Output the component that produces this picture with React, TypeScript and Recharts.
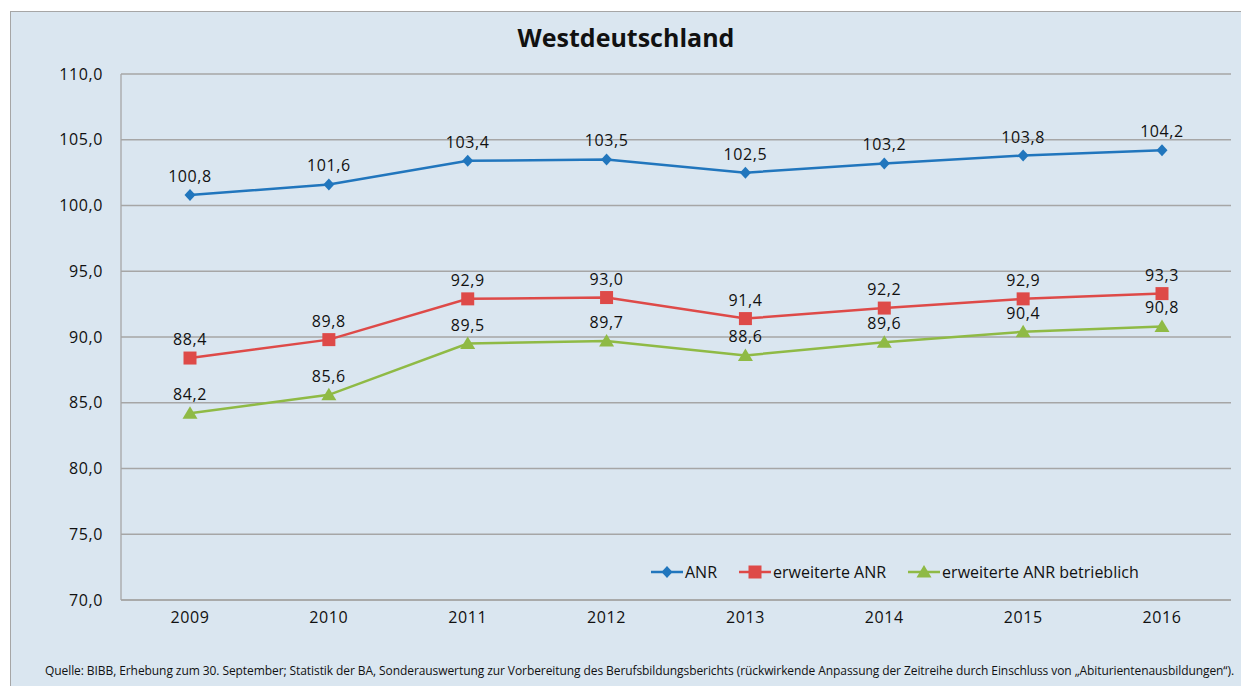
import React from "react";
import {
  LineChart, Line, XAxis, YAxis, CartesianGrid, LabelList,
} from "recharts";

const years = ["2009", "2010", "2011", "2012", "2013", "2014", "2015", "2016"];
const anr = [100.8, 101.6, 103.4, 103.5, 102.5, 103.2, 103.8, 104.2];
const anrErweitert = [88.4, 89.8, 92.9, 93.0, 91.4, 92.2, 92.9, 93.3];
const anrBetrieblich = [84.2, 85.6, 89.5, 89.7, 88.6, 89.6, 90.4, 90.8];
const yTicks = [70, 75, 80, 85, 90, 95, 100, 105, 110];

const BLUE = "#2176bd";
const RED = "#de4a48";
const GREEN = "#8fba45";
const GRID = "#a6a6a6";
const BG = "#dae6f0";
const FONT = "'Open Sans', sans-serif";

const data = years.map((y, i) => ({
  year: y,
  anr: anr[i],
  erw: anrErweitert[i],
  betr: anrBetrieblich[i],
}));

const fmt = (v: number) => v.toFixed(1).replace(".", ",");

function Diamond({ cx, cy, color }: { cx: number; cy: number; color: string }) {
  return <path d={`M${cx},${cy - 6} L${cx + 5.5},${cy} L${cx},${cy + 6} L${cx - 5.5},${cy} Z`} fill={color} />;
}
function Square({ cx, cy, color }: { cx: number; cy: number; color: string }) {
  return <rect x={cx - 6.5} y={cy - 6.5} width={13} height={13} fill={color} />;
}
function Triangle({ cx, cy, color }: { cx: number; cy: number; color: string }) {
  return <path d={`M${cx},${cy - 7} L${cx + 7.5},${cy + 5.5} L${cx - 7.5},${cy + 5.5} Z`} fill={color} />;
}

const legendItems = [
  { label: "ANR", color: BLUE, Marker: Diamond },
  { label: "erweiterte ANR", color: RED, Marker: Square },
  { label: "erweiterte ANR betrieblich", color: GREEN, Marker: Triangle },
];

function ChartLegend() {
  return (
    <div
      style={{
        position: "absolute", left: 651, top: 561, display: "flex", alignItems: "center",
        fontFamily: FONT, fontSize: 16, color: "#111", whiteSpace: "nowrap",
      }}
    >
      {legendItems.map(({ label, color, Marker }, idx) => (
        <div key={idx} style={{ display: "flex", alignItems: "center", marginRight: idx < 2 ? 22 : 0 }}>
          <svg width={32} height={16} style={{ marginRight: 2 }}>
            <line x1={0} y1={8} x2={32} y2={8} stroke={color} strokeWidth={2.5} />
            <Marker cx={16} cy={8} color={color} />
          </svg>
          <span>{label}</span>
        </div>
      ))}
    </div>
  );
}

const labelStyle = { fontSize: 16, fill: "#111", fontFamily: FONT, letterSpacing: 0.6 };
const tickStyle = { fontSize: 16, fill: "#111", fontFamily: FONT, letterSpacing: 0.6 };

export default function App() {
  return (
    <div style={{ position: "absolute", left: 0, top: 0, width: 1241, height: 686, overflow: "hidden", background: "#fff" }}>
      <div
        style={{
          position: "absolute", left: 10, top: 11, width: 1240, height: 700,
          background: BG, border: `1px solid ${GRID}`,
        }}
      />
      <div
        style={{
          position: "absolute", left: 10, top: 20, width: 1232, textAlign: "center",
          fontFamily: FONT, fontWeight: 700, fontSize: 25, color: "#111",
        }}
      >
        Westdeutschland
      </div>
      <div style={{ position: "absolute", left: 0, top: 0 }}>
        <LineChart width={1241} height={686} data={data} margin={{ top: 74, right: 10, bottom: 56, left: 0 }}>
          <CartesianGrid vertical={false} stroke={GRID} strokeWidth={1.3} />
          <XAxis
            dataKey="year"
            height={30}
            padding={{ left: 69, right: 69 }}
            axisLine={{ stroke: GRID, strokeWidth: 1.3 }}
            tickLine={false}
            tickSize={0}
            tickMargin={12}
            tick={tickStyle}
          />
          <YAxis
            width={121}
            domain={[70, 110]}
            ticks={yTicks}
            tickFormatter={fmt}
            axisLine={{ stroke: GRID, strokeWidth: 1.3 }}
            tickLine={false}
            tickSize={0}
            tickMargin={18}
            tick={tickStyle}
          />
          <Line
            dataKey="anr"
            stroke={BLUE}
            strokeWidth={2.5}
            isAnimationActive={false}
            dot={(p: any) => <Diamond key={p.index} cx={p.cx} cy={p.cy} color={BLUE} />}
          >
            <LabelList dataKey="anr" position="top" offset={13} formatter={fmt} style={labelStyle} />
          </Line>
          <Line
            dataKey="erw"
            stroke={RED}
            strokeWidth={2.5}
            isAnimationActive={false}
            dot={(p: any) => <Square key={p.index} cx={p.cx} cy={p.cy} color={RED} />}
          >
            <LabelList dataKey="erw" position="top" offset={13} formatter={fmt} style={labelStyle} />
          </Line>
          <Line
            dataKey="betr"
            stroke={GREEN}
            strokeWidth={2.5}
            isAnimationActive={false}
            dot={(p: any) => <Triangle key={p.index} cx={p.cx} cy={p.cy} color={GREEN} />}
          >
            <LabelList dataKey="betr" position="top" offset={13} formatter={fmt} style={labelStyle} />
          </Line>
        </LineChart>
      </div>
      <ChartLegend />
      <div
        style={{
          position: "absolute", left: 45, top: 662, whiteSpace: "nowrap",
          fontFamily: FONT, fontSize: 12, letterSpacing: -0.08, color: "#111",
        }}
      >
        Quelle: BIBB, Erhebung zum 30. September; Statistik der BA, Sonderauswertung zur Vorbereitung des Berufsbildungsberichts (rückwirkende Anpassung der Zeitreihe durch Einschluss von „Abiturientenausbildungen“).
      </div>
    </div>
  );
}
